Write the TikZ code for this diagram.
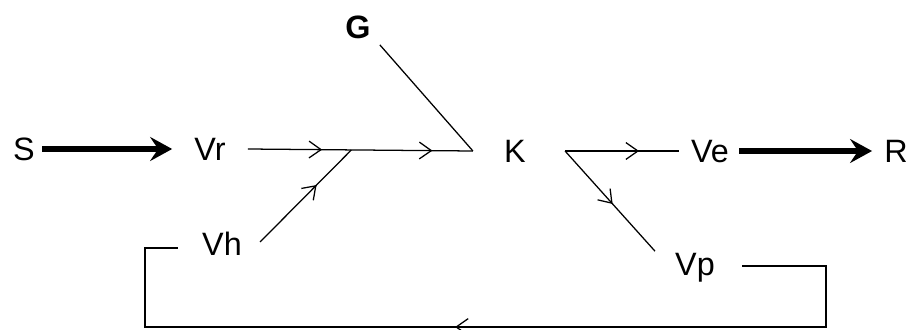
\documentclass[tikz,border=0pt]{standalone}
\usepackage{fontspec}
\setmainfont{Liberation Sans}
\usetikzlibrary{arrows.meta, calc, decorations.markings}
\definecolor{ink}{HTML}{000000}

\begin{document}
\begin{tikzpicture}[
    x=0.025cm, y=-0.025cm,
    every node/.style={font=\fontsize{23}{27}\selectfont, inner sep=0pt,
        text height=16.5pt, text depth=0pt, text=ink},
    gate/.style={font=\fontsize{23}{27}\selectfont\bfseries},
    feed/.style={ink, line width=3.6pt,
        -{Stealth[length=0.55cm, width=0.6cm, inset=0.2cm]}},
    flow/.style={ink, line width=0.9pt},
    mbarb/.tip={Straight Barb[length=0.3cm, width=0.42cm, line width=0.9pt]},
    mid/.style={postaction={decorate}, decoration={markings,
        mark=at position #1 with {\arrow{mbarb}}}},
    midtwo/.style 2 args={postaction={decorate}, decoration={markings,
        mark=at position #1 with {\arrow{mbarb}},
        mark=at position #2 with {\arrow{mbarb}}}},
]
\useasboundingbox (0,0) rectangle (906,329);

% ============================================================ variables
\node (S)  at (24, 149)  {S};
\node (Vr) at (210, 149) {Vr};
\node (K)  at (515, 151) {K};
\node (Ve) at (710, 151) {Ve};
\node (R)  at (896, 151) {R};
\node (Vh) at (222, 244) {Vh};
\node (Vp) at (695, 264) {Vp};
\node[gate] (G) at (358, 27) {G};

% line ends near the variables
\coordinate (vr-out) at ($(Vr.east)+(22,0)$);
\coordinate (kin)    at ($(K.west)+(-31,0)$);
\coordinate (kout)   at ($(K.east)+(39,0)$);
\coordinate (ve-in)  at ($(Ve.west)+(-12,0)$);
\coordinate (vh-out) at ($(Vh.east)+(18,-2)$);
\coordinate (vh-in)  at ($(Vh.west)+(-24,4)$);
\coordinate (vp-out) at ($(Vp.east)+(27,2)$);
\coordinate (vp-in)  at ($(Vp.north west)+(-20,-1)$);
\coordinate (g-out)  at ($(G.south east)+(9,6)$);
\coordinate (join)   at ($(vr-out)!0.46!(kin)$);

% ============================================================ inflow and outflow
\draw[feed, shorten <=0.18cm, shorten >=0.55cm] (S) -- (Vr);
\draw[feed, shorten <=0.25cm, shorten >=0.3cm] (Ve) -- (R);

% ============================================================ into K
\draw[flow, midtwo={0.33}{0.82}] (vr-out) -- (kin);
\draw[flow, mid=0.62] (vh-out) -- (join);
\draw[flow] (g-out) -- (kin);

% ============================================================ out of K
\draw[flow, mid=0.65] (kout) -- (ve-in);
\draw[flow, mid=0.53] (kout) -- (vp-in);

% feedback loop, Vp back to Vh
\coordinate (loop-br) at (826, 327);
\coordinate (loop-bl) at (145, 327);
\draw[flow, mid=0.55] (vp-out) -| (loop-br) -- (loop-bl) |- (vh-in);

\end{tikzpicture}
\end{document}
